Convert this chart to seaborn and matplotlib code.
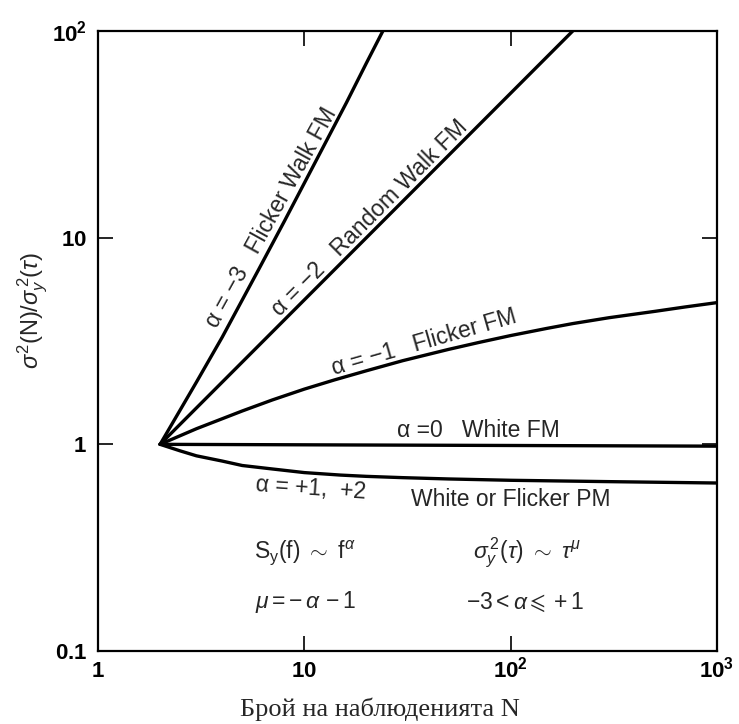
import matplotlib
matplotlib.use('Agg')
import matplotlib.pyplot as plt
import seaborn as sns
import pandas as pd

# values (N, sigma^2(N)/sigma_y^2(tau))
n_flicker_walk = [2, 3, 4, 6, 8, 12, 16, 20, 25]
flicker_walk = [1.0, 2.0, 3.3, 7.0, 12, 26, 45, 70, 108]

n_random_walk = [2, 5, 10, 20, 50, 100, 200]
random_walk = [1.0, 2.5, 5.0, 10, 25, 50, 100]

n_flicker = [2, 3, 5, 7, 10, 14, 20, 30, 50, 70, 100, 150, 200, 300, 500, 700, 1000]
flicker = [1.0, 1.19, 1.45, 1.64, 1.85, 2.05, 2.27, 2.54, 2.88, 3.11, 3.36,
           3.64, 3.84, 4.1, 4.4, 4.62, 4.85]

n_white = [2, 1000]
white = [1.0, 0.98]

n_pm = [2, 2.5, 3, 4, 5, 7, 10, 15, 20, 30, 50, 100, 300, 1000]
pm = [1.0, 0.93, 0.88, 0.83, 0.79, 0.76, 0.73, 0.71, 0.70, 0.69, 0.68, 0.67, 0.66, 0.65]

x_ticks = [1, 10, 100, 1000]
x_ticklabels = [r'$\mathbf{1}$', r'$\mathbf{10}$', r'$\mathbf{10^2}$', r'$\mathbf{10^3}$']
y_ticks = [0.1, 1, 10, 100]
y_ticklabels = [r'$\mathbf{0.1}$', r'$\mathbf{1}$', r'$\mathbf{10}$', r'$\mathbf{10^2}$']

sns.set_theme(style='ticks')
plt.rcParams['font.family'] = ['Liberation Sans', 'DejaVu Sans']
plt.rcParams['mathtext.fontset'] = 'custom'
plt.rcParams['mathtext.rm'] = 'Liberation Sans'
plt.rcParams['mathtext.it'] = 'Liberation Sans:italic'
plt.rcParams['mathtext.bf'] = 'Liberation Sans:bold'
plt.rcParams['mathtext.sf'] = 'Liberation Sans'

series = [(n_flicker_walk, flicker_walk), (n_random_walk, random_walk),
          (n_flicker, flicker), (n_white, white), (n_pm, pm)]

fig = plt.figure(figsize=(7.39, 7.24), dpi=100)
ax = fig.add_axes([0.1326, 0.1008, 0.8376, 0.8564])

for n, v in series:
    df = pd.DataFrame({'N': n, 'ratio': v})
    sns.lineplot(data=df, x='N', y='ratio', color='black', linewidth=2.4, ax=ax)

ax.set(xscale='log', yscale='log', xlim=(1, 1000), ylim=(0.1, 100))
ax.set_xticks(x_ticks)
ax.set_xticklabels(x_ticklabels, va='baseline')
ax.set_yticks(y_ticks)
ax.set_yticklabels(y_ticklabels)
ax.minorticks_off()
ax.tick_params(which='major', direction='in', length=11, width=1.2,
               top=True, right=True, labelsize=16, pad=8, colors='black')
ax.tick_params(axis='x', pad=19)
for s in ax.spines.values():
    s.set_linewidth(1.6)
    s.set_color('black')
ax.set_xlabel('')
ax.set_ylabel('')

txt = dict(fontsize=16.5, ha='center', va='center', rotation_mode='anchor')
ax.text(6.9, 12.5, 'α = −3   Flicker Walk FM', rotation=61, **txt)
ax.text(20.8, 12.5, 'α = −2   Random Walk FM', rotation=45, **txt)
ax.text(38, 3.1, 'α = −1   Flicker FM', rotation=16, **txt)
ax.text(70, 1.17, 'α =0   White FM', rotation=0, **txt)
ax.text(10.7, 0.612, 'α = +1,  +2', rotation=-4, **txt)
ax.text(100, 0.542, 'White or Flicker PM', rotation=0, **txt)

ax.text(10.1, 0.30, r'$\mathrm{S_y(f)}\ \sim\ \mathrm{f}^{\alpha}$', **txt)
ax.text(120, 0.30, r'$\sigma_y^{\,2}(\tau)\ \sim\ \tau^{\mu}$', **txt)
ax.text(10.1, 0.172, r'$\mu = -\,\alpha\, - 1$', **txt)
ax.text(117, 0.172, r'$-3 < \alpha \leqslant +1$', **txt)

fig.text(33 / 739, 1 - 310 / 724, r'$\sigma^2\mathrm{(N)}/\sigma_y^{\,2}(\tau)$',
         rotation=90, fontsize=17, ha='center', va='center')
fig.text(380 / 739, 1 - 709 / 724, 'Брой на наблюденията N',
         family=['Liberation Serif', 'DejaVu Serif'], fontsize=19,
         ha='center', va='center')

plt.savefig('out.png', dpi=100)
